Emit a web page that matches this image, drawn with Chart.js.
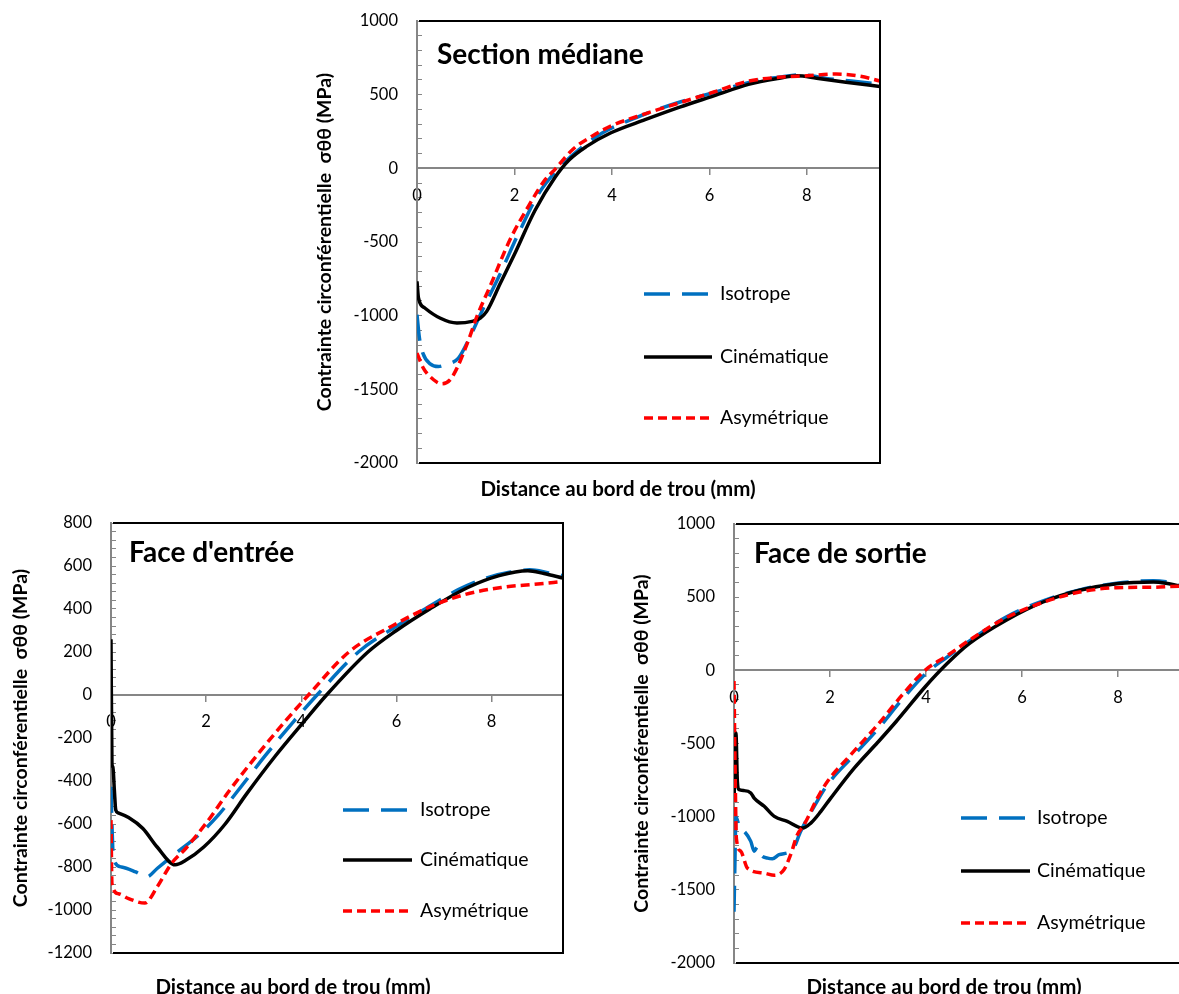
<!DOCTYPE html>
<html lang="fr">
<head>
<meta charset="utf-8">
<title>Contrainte circonférentielle</title>
<script src="https://cdn.jsdelivr.net/npm/chart.js"></script>
<style>
  html, body { margin: 0; padding: 0; background: #fff; overflow: hidden; width: 1179px; height: 994px; }
  canvas { position: absolute; }
</style>
</head>
<body>
<canvas id="grMediane"></canvas>
<canvas id="grEntree"></canvas>
<canvas id="grSortie"></canvas>
<script>
// ---- Section médiane ----
const medIsoX = [0, 0.05, 0.12, 0.27, 0.44, 0.58, 0.85, 1.06, 1.33, 1.7, 2.1, 2.5, 2.91, 3.3, 3.8, 4.5, 5.3, 6.1, 6.9, 7.5, 7.9, 8.4, 9.0, 9.5];
const medIsoY = [-993, -1152, -1254, -1327, -1345, -1333, -1288, -1163, -971, -720, -430, -170, 0, 120, 240, 345, 440, 515, 590, 622, 635, 610, 590, 571];
const medCinX = [0, 0.03, 0.16, 0.47, 0.82, 1.13, 1.30, 1.43, 1.71, 2.0, 2.42, 2.84, 3.12, 3.48, 3.97, 4.68, 5.39, 6.09, 6.8, 7.4, 7.8, 8.2, 8.8, 9.5];
const medCinY = [-767, -880, -948, -1016, -1050, -1039, -1016, -971, -780, -583, -286, -57, 57, 149, 240, 330, 415, 492, 570, 610, 628, 612, 585, 555];
const medAsyX = [0, 0.13, 0.34, 0.51, 0.68, 0.82, 1.06, 1.23, 1.50, 1.91, 2.3, 2.6, 2.85, 3.2, 3.6, 4.0, 4.68, 5.39, 6.09, 6.8, 7.5, 8.0, 8.6, 9.1, 9.5];
const medAsyY = [-1254, -1356, -1435, -1463, -1435, -1356, -1163, -1005, -800, -483, -250, -90, 0, 130, 220, 290, 370, 445, 518, 592, 620, 628, 640, 625, 592];

// ---- Face d'entrée ----
const entIsoX = [0, 0.02, 0.05, 0.22, 0.52, 0.75, 0.97, 1.35, 1.85, 2.25, 2.65, 3.25, 3.85, 4.33, 5.2, 6.0, 6.6, 7.3, 7.9, 8.4, 8.8, 9.2, 9.5];
const entIsoY = [-427, -600, -761, -800, -823, -846, -807, -738, -650, -560, -450, -280, -120, 0, 200, 320, 400, 490, 545, 572, 582, 568, 555];
const entCinX = [0, 0.02, 0.04, 0.07, 0.1, 0.15, 0.37, 0.67, 0.97, 1.35, 1.57, 1.95, 2.4, 2.85, 3.45, 4.05, 4.53, 5.4, 6.0, 6.7, 7.5, 8.16, 8.76, 9.1, 9.5];
const entCinY = [259, -320, -335, -440, -535, -548, -570, -621, -707, -790, -769, -707, -600, -460, -285, -125, 0, 200, 300, 400, 500, 555, 578, 565, 544];
const entAsyX = [0, 0.02, 0.15, 0.37, 0.71, 0.97, 1.27, 1.57, 2.02, 2.47, 3.07, 3.67, 4.15, 5.0, 5.9, 6.7, 7.4, 8.2, 8.9, 9.5];
const entAsyY = [-582, -877, -924, -947, -968, -893, -784, -714, -590, -450, -280, -120, 0, 200, 320, 410, 465, 500, 515, 528];

// ---- Face de sortie ----
const sorIsoX = [0, 0.02, 0.04, 0.12, 0.21, 0.35, 0.42, 0.49, 0.56, 0.7, 0.8, 0.94, 1.22, 1.39, 1.74, 1.95, 2.44, 3.0, 3.5, 4.0, 4.44, 4.9, 5.67, 6.44, 7.2, 7.97, 8.74, 9.0, 9.27, 9.5];
const sorIsoY = [-1650, -1300, -1000, -1080, -1100, -1169, -1236, -1206, -1260, -1283, -1288, -1260, -1226, -1100, -890, -780, -600, -400, -200, -20, 90, 200, 365, 475, 550, 595, 612, 605, 585, 570];
const sorCinX = [0, 0.04, 0.07, 0.1, 0.21, 0.35, 0.42, 0.63, 0.84, 1.11, 1.43, 1.6, 1.81, 2.0, 2.5, 3.0, 3.37, 3.98, 4.44, 4.9, 5.67, 6.44, 7.2, 7.97, 8.74, 9.0, 9.5];
const sorCinY = [-900, -429, -758, -815, -822, -838, -873, -929, -998, -1032, -1078, -1044, -964, -880, -670, -490, -353, -114, 46, 182, 342, 467, 547, 592, 604, 595, 560];
const sorAsyX = [0, 0.02, 0.05, 0.14, 0.28, 0.63, 0.84, 1.04, 1.18, 1.32, 1.46, 1.74, 1.95, 2.44, 3.0, 3.5, 3.98, 4.44, 4.9, 5.67, 6.44, 7.2, 7.97, 8.74, 9.27, 9.5];
const sorAsyY = [-73, -600, -1150, -1236, -1352, -1386, -1400, -1363, -1260, -1123, -1055, -872, -758, -574, -370, -170, 0, 100, 205, 360, 465, 535, 565, 568, 575, 575];

const series = ['Isotrope', 'Cinématique', 'Asymétrique'];
const ticksX = [0, 2, 4, 6, 8];
const titreY = 'Contrainte circonférentielle  σθθ (MPa)';
const titreX = 'Distance au bord de trou (mm)';

const police = 'Lato, "Open Sans", sans-serif';
Chart.defaults.font.family = police;
Chart.defaults.color = '#000';

const pts = (xs, ys) => xs.map((x, i) => ({x: x, y: ys[i]}));

// titre, légende, cadre et titre de l'axe x
const habillage = {
  id: 'habillage',
  afterDatasetsDraw(chart, args, o) {
    const ctx = chart.ctx, a = chart.chartArea;
    ctx.save();
    ctx.strokeStyle = '#000';
    ctx.lineWidth = 2;
    ctx.beginPath();
    ctx.moveTo(a.left + 2, a.top);
    ctx.lineTo(a.right, a.top);
    ctx.lineTo(a.right, a.bottom);
    ctx.lineTo(a.left + 2, a.bottom);
    ctx.stroke();

    ctx.fillStyle = '#000';
    ctx.textBaseline = 'middle';
    ctx.font = 'bold 28px ' + police;
    ctx.fillText(o.titre, a.left + o.titrePos[0], a.top + o.titrePos[1]);

    ctx.font = '19.5px ' + police;
    chart.data.datasets.forEach((ds, i) => {
      const y = a.top + o.legY[i];
      ctx.strokeStyle = ds.borderColor;
      ctx.lineWidth = ds.borderWidth;
      ctx.setLineDash(ds.borderDash || []);
      ctx.beginPath();
      ctx.moveTo(a.left + o.legX[0], y);
      ctx.lineTo(a.left + o.legX[1], y);
      ctx.stroke();
      ctx.setLineDash([]);
      ctx.fillText(ds.label, a.left + o.legX[2], y);
    });

    ctx.font = 'bold 20.5px ' + police;
    ctx.textAlign = 'center';
    ctx.fillText(titreX, a.left + o.titreXPos[0], a.top + o.titreXPos[1]);
    ctx.restore();
  }
};

function graphique(id, zone, yMin, yMax, pasMineur, pasMajeur, donnees, deco) {
  // zone : rectangle du tracé en pixels de la page + centre du titre de l'axe y
  const canvas = document.getElementById(id);
  const gauche = zone.titreY - 13, haut = zone.haut - 34;
  canvas.width = zone.droite + 6 - gauche;
  canvas.height = zone.bas + zone.marge - haut;
  canvas.style.left = gauche + 'px';
  canvas.style.top = haut + 'px';

  return new Chart(canvas, {
    type: 'line',
    data: {
      datasets: [
        {
          label: series[0],
          data: pts(donnees[0], donnees[1]),
          borderColor: '#0070C0',
          borderWidth: 3.5,
          borderDash: [26, 12],
          order: 3
        },
        {
          label: series[1],
          data: pts(donnees[2], donnees[3]),
          borderColor: '#000000',
          borderWidth: 3.5,
          order: 2
        },
        {
          label: series[2],
          data: pts(donnees[4], donnees[5]),
          borderColor: '#FF0000',
          borderWidth: 3.5,
          borderDash: [9, 5],
          order: 1
        }
      ]
    },
    options: {
      responsive: false,
      animation: false,
      events: [],
      layout: { padding: { left: 0, top: 34, right: 6, bottom: zone.marge } },
      elements: {
        point: { radius: 0 },
        line: { cubicInterpolationMode: 'monotone', fill: false }
      },
      plugins: {
        legend: { display: false },
        tooltip: { enabled: false },
        habillage: deco
      },
      scales: {
        x: {
          type: 'linear',
          position: { y: 0 },
          min: 0,
          max: 9.5,
          afterBuildTicks: s => { s.ticks = ticksX.map(v => ({value: v})); },
          ticks: { padding: 11, font: { size: 16.5 }, color: '#000', maxRotation: 0 },
          grid: { drawOnChartArea: false, tickLength: 6, color: '#868686', lineWidth: 1.5 },
          border: { color: '#868686', width: 2 }
        },
        y: {
          min: yMin,
          max: yMax,
          afterFit: s => { s.width = zone.gauche - gauche; },
          ticks: {
            stepSize: pasMineur,
            autoSkip: false,
            padding: 24,
            font: { size: 16.5 },
            color: '#000',
            callback: v => (Math.abs(v % pasMajeur) < 1e-6 ? String(v) : '')
          },
          grid: { drawOnChartArea: false, tickLength: -5, color: '#868686', lineWidth: 1 },
          border: { color: '#868686', width: 2 },
          title: {
            display: true,
            text: titreY,
            font: { size: 19.5, weight: 'bold' },
            padding: { top: 2, bottom: 0 },
            color: '#000'
          }
        }
      }
    },
    plugins: [habillage]
  });
}

graphique('grMediane',
  { gauche: 417, haut: 21, droite: 880, bas: 463, titreY: 324, marge: 40 },
  -2000, 1000, 100, 500,
  [medIsoX, medIsoY, medCinX, medCinY, medAsyX, medAsyY],
  { titre: 'Section médiane', titrePos: [20, 34], legX: [227, 295, 303], legY: [273, 336, 397], titreXPos: [201, 468] });

graphique('grEntree',
  { gauche: 111, haut: 523, droite: 563, bas: 953, titreY: 20, marge: 50 },
  -1200, 800, 40, 200,
  [entIsoX, entIsoY, entCinX, entCinY, entAsyX, entAsyY],
  { titre: "Face d'entrée", titrePos: [18, 30], legX: [232, 301, 309], legY: [287, 337, 388], titreXPos: [182, 464] });

graphique('grSortie',
  { gauche: 734, haut: 524, droite: 1190, bas: 963, titreY: 641, marge: 50 },
  -2000, 1000, 100, 500,
  [sorIsoX, sorIsoY, sorCinX, sorCinY, sorAsyX, sorAsyY],
  { titre: 'Face de sortie', titrePos: [20, 30], legX: [227, 296, 303], legY: [294, 347, 399], titreXPos: [210, 463] });
</script>
</body>
</html>
